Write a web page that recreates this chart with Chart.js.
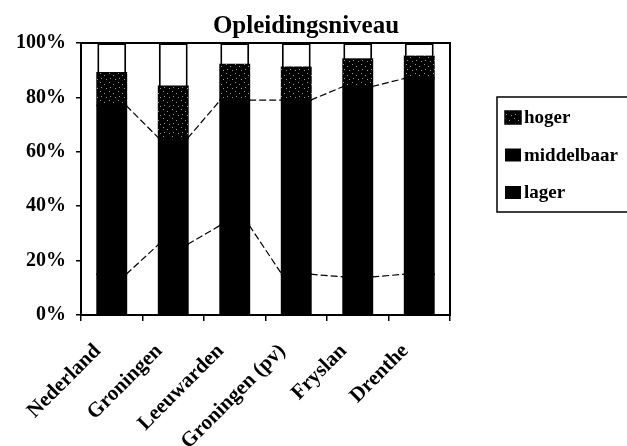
<!DOCTYPE html>
<html>
<head>
<meta charset="utf-8">
<script src="https://cdn.jsdelivr.net/npm/chart.js@4.4.0/dist/chart.umd.min.js"></script>
<style>
html, body { margin: 0; padding: 0; background: #fff; }
#wrap { width: 627px; height: 446px; }
</style>
</head>
<body>
<div id="wrap"><canvas id="chart" width="627" height="446"></canvas></div>
<script>
const regios = ['Nederland', 'Groningen', 'Leeuwarden', 'Groningen (pv)', 'Fryslan', 'Drenthe'];
const lager = [15, 26, 33, 15, 14, 15];
const middelbaar = [62, 39, 46, 64, 70, 72];
const hoger = [12, 19, 13, 12, 10, 8];
const overig = [11, 16, 8, 9, 6, 5]; // witte rest bovenin de staven
const yTicks = [0, 20, 40, 60, 80, 100];
const titel = 'Opleidingsniveau';

const serif = "'Liberation Serif', 'Times New Roman', serif";

// zwart met een paar grijze spikkels, zoals het gescande arceringspatroon
function spikkels() {
    const c = document.createElement('canvas');
    c.width = 9; c.height = 9;
    const g = c.getContext('2d');
    g.fillStyle = '#000';
    g.fillRect(0, 0, 9, 9);
    g.fillStyle = '#999';
    [[1, 1], [5, 3], [2, 6], [7, 7]].forEach(([x, y]) => g.fillRect(x, y, 1, 1));
    return g.createPattern(c, 'repeat');
}
const hogerFill = spikkels();

const seriesLines = {
    id: 'seriesLines',
    afterDatasetsDraw(chart) {
        const ctx = chart.ctx;
        ctx.save();
        ctx.strokeStyle = '#000';
        ctx.lineWidth = 1.2;
        ctx.setLineDash([7, 3]);
        [0, 1].forEach(di => {
            const bars = chart.getDatasetMeta(di).data;
            for (let i = 0; i < bars.length - 1; i++) {
                const a = bars[i], b = bars[i + 1];
                ctx.beginPath();
                ctx.moveTo(a.x + a.width / 2, a.y);
                ctx.lineTo(b.x - b.width / 2, b.y);
                ctx.stroke();
            }
        });
        ctx.restore();
    }
};

const frameAndTitle = {
    id: 'frameAndTitle',
    afterDraw(chart) {
        const { ctx, chartArea: a } = chart;
        ctx.save();
        ctx.strokeStyle = '#000';
        ctx.lineWidth = 2;
        ctx.strokeRect(a.left, a.top, a.right - a.left, a.bottom - a.top);
        ctx.fillStyle = '#000';
        ctx.font = 'bold 25px ' + serif;
        ctx.textAlign = 'center';
        ctx.textBaseline = 'alphabetic';
        ctx.fillText(titel, 306, 33);
        ctx.restore();
    }
};

const boxLegend = {
    id: 'boxLegend',
    afterDraw(chart) {
        const ctx = chart.ctx;
        ctx.save();
        ctx.strokeStyle = '#000';
        ctx.lineWidth = 1.5;
        ctx.strokeRect(497, 97, 140, 115);
        ctx.font = 'bold 19px ' + serif;
        ctx.textBaseline = 'alphabetic';
        [2, 1, 0].forEach((di, k) => {
            const ds = chart.data.datasets[di];
            const y = 111 + k * 37.5;
            ctx.fillStyle = ds.backgroundColor;
            ctx.fillRect(505, y, 16, 13);
            if (di === 2) {
                ctx.lineWidth = 1.5;
                ctx.strokeRect(505, y, 16, 13);
            }
            ctx.fillStyle = '#000';
            ctx.fillText(ds.label, 524, y + 12);
        });
        ctx.restore();
    }
};

new Chart(document.getElementById('chart'), {
    type: 'bar',
    data: {
        labels: regios,
        datasets: [
            { label: 'lager', data: lager, backgroundColor: '#000', borderWidth: 0, inflateAmount: 1 },
            { label: 'middelbaar', data: middelbaar, backgroundColor: '#000', borderWidth: 0, inflateAmount: 1 },
            { label: 'hoger', data: hoger, backgroundColor: hogerFill, borderWidth: 0, inflateAmount: 1 },
            { label: 'overig', data: overig, backgroundColor: '#fff', borderColor: '#000',
              borderWidth: { left: 2, right: 2, top: 2, bottom: 0 }, borderSkipped: false, inflateAmount: 0 }
        ]
    },
    options: {
        responsive: false,
        animation: false,
        categoryPercentage: 1,
        barPercentage: 0.47,
        layout: { padding: { left: 0, right: 177, top: 43, bottom: 0 } },
        plugins: {
            legend: { display: false },
            tooltip: { enabled: false },
            title: { display: false }
        },
        scales: {
            x: {
                stacked: true,
                grid: { offset: true, drawOnChartArea: false, drawTicks: true, tickLength: 6, color: '#000', lineWidth: 1.5 },
                border: { display: true, color: '#000', width: 2 },
                ticks: {
                    color: '#000',
                    minRotation: 45,
                    maxRotation: 45,
                    padding: 18,
                    labelOffset: -14,
                    font: { family: serif, size: 21, weight: 'bold' }
                },
                afterFit(scale) { scale.height = 131; }
            },
            y: {
                stacked: true,
                min: 0,
                max: 100,
                afterBuildTicks(scale) { scale.ticks = yTicks.map(v => ({ value: v })); },
                grid: { drawOnChartArea: false, drawTicks: true, tickLength: 5, color: '#000', lineWidth: 1.5 },
                border: { display: true, color: '#000', width: 2 },
                ticks: {
                    color: '#000',
                    padding: 10,
                    font: { family: serif, size: 20, weight: 'bold' },
                    callback: v => v + '%'
                },
                afterFit(scale) { scale.width = 81; }
            }
        }
    },
    plugins: [seriesLines, frameAndTitle, boxLegend]
});
</script>
</body>
</html>
